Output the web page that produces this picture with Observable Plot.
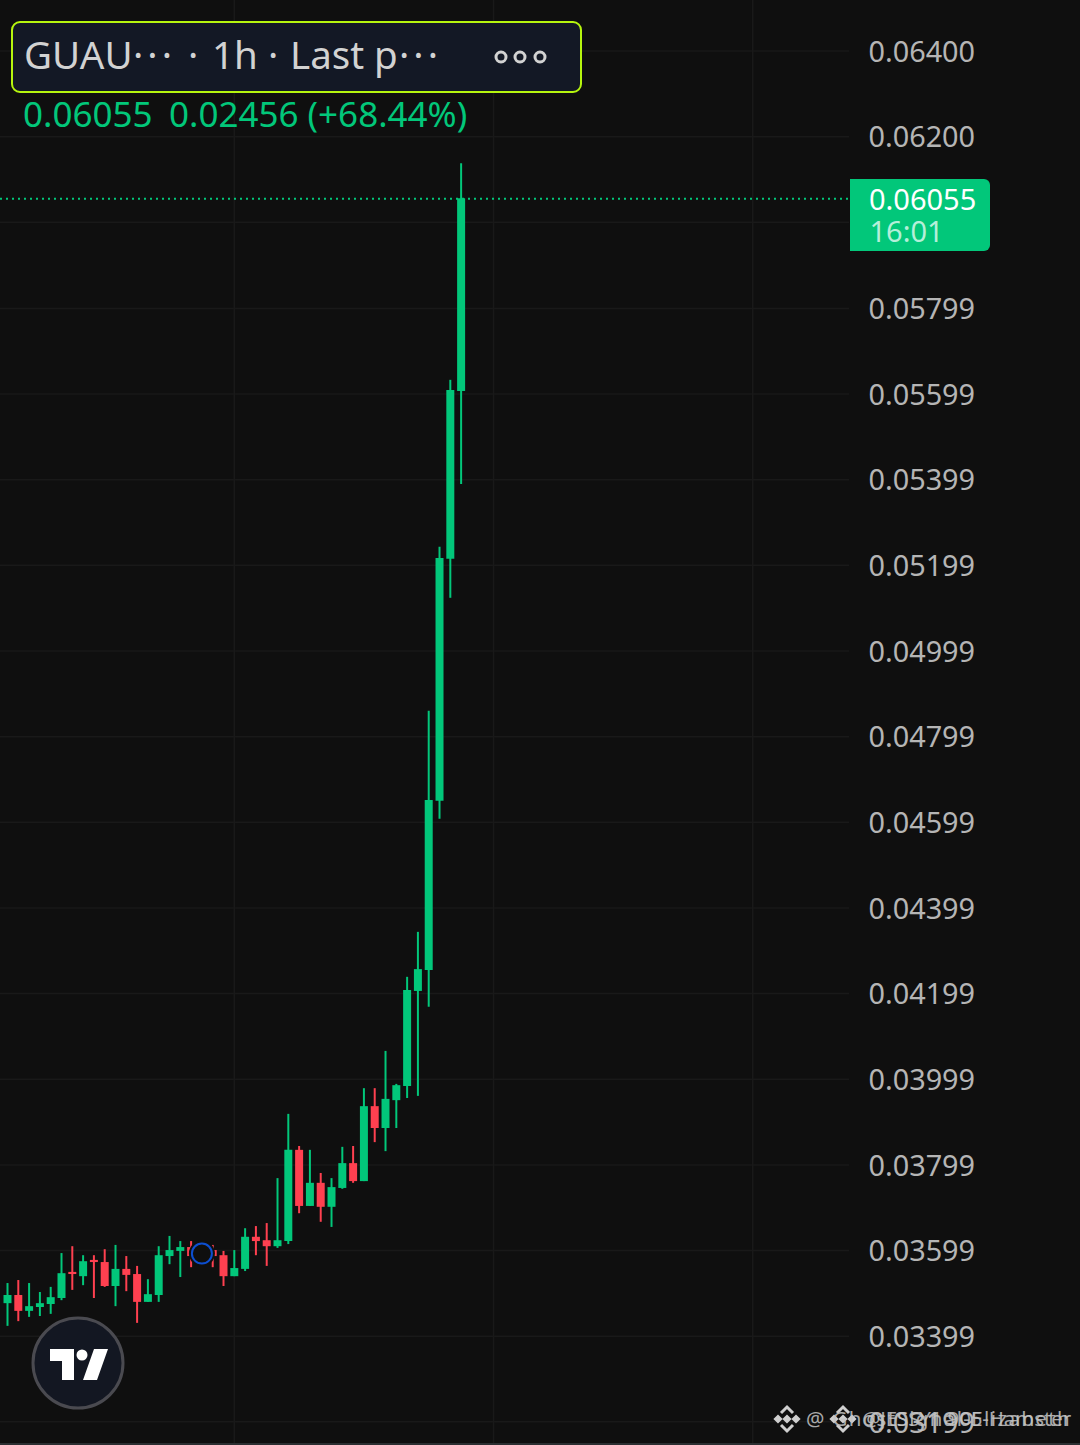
<!DOCTYPE html>
<html>
<head>
<meta charset="utf-8">
<script src="https://cdn.jsdelivr.net/npm/d3@7"></script>
<script src="https://cdn.jsdelivr.net/npm/@observablehq/plot@0.6"></script>
<style>
html,body{margin:0;padding:0;background:#0f0f0f;width:1080px;height:1445px;overflow:hidden}
#wrap{position:relative;width:1080px;height:1445px;font-family:"Noto Sans",sans-serif;overflow:hidden}
#wrap svg{display:block}
.abs{position:absolute;white-space:pre;line-height:1}
#header{position:absolute;left:11px;top:21px;width:567px;height:68px;background:#131825;border:2px solid #b6f50e;border-radius:9px}
#bottom{position:absolute;left:0;right:0;bottom:0;height:2px;background:#2b2e31}
#tag{position:absolute;left:850px;width:140px;height:72px;background:#02c77a;border-radius:0 6px 6px 0}
.wm{position:absolute;color:#c4c4c4;font-size:20.5px;line-height:1;white-space:pre;opacity:.85}
</style>
</head>
<body>
<div id="wrap"></div>
<script>
const index = d3.range(43);
const opens  = [.03475,.03494,.03457,.03466,.03473,.03487,.03548,.03538,.03576,.03571,.03515,.03555,.03543,.03478,.03494,.03585,.03597,.03606,.03592,.03599,.03587,.03538,.03555,.03630,.03622,.03608,.03620,.03833,.03702,.03756,.03700,.03744,.03802,.03760,.03935,.03884,.03949,.03982,.04204,.04253,.04648,.05213,.05605];
const closes = [.03494,.03457,.03468,.03475,.03489,.03545,.03543,.03573,.03571,.03515,.03555,.03541,.03478,.03496,.03587,.03599,.03606,.03585,.03599,.03585,.03538,.03557,.03630,.03620,.03608,.03622,.03833,.03702,.03756,.03700,.03746,.03802,.03760,.03935,.03884,.03952,.03984,.04206,.04255,.04650,.05215,.05607,.06055];
const highs  = [.03522,.03529,.03522,.03501,.03513,.03592,.03608,.03587,.03587,.03601,.03611,.03585,.03562,.03531,.03608,.03632,.03620,.03620,.03611,.03611,.03597,.03599,.03650,.03655,.03662,.03767,.03917,.03842,.03833,.03779,.03767,.03840,.03842,.03977,.03977,.04064,.03987,.04237,.04342,.04858,.05241,.05631,.06137];
const lows   = [.03422,.03433,.03443,.03445,.03450,.03482,.03506,.03517,.03487,.03513,.03468,.03503,.03429,.03478,.03478,.03566,.03536,.03559,.03562,.03559,.03515,.03538,.03550,.03587,.03562,.03604,.03613,.03685,.03702,.03665,.03653,.03742,.03756,.03760,.03851,.03830,.03884,.03954,.03959,.04167,.04606,.05122,.05388];
const yTicks = [.064,.062,.06,.05799,.05599,.05399,.05199,.04999,.04799,.04599,.04399,.04199,.03999,.03799,.03599,.03399,.03199];
const xGrid = [21,45,69];
const lastPrice = 0.06055;
const marker = [{i:18, price:.03592}];

const GREEN="#02c77a", RED="#ff4050", GRID="#191919", BG="#0f0f0f";
const candles = index.map(i=>({i,open:opens[i],close:closes[i],high:highs[i],low:lows[i]}));
const col = d => d.close>=d.open?GREEN:RED;

const plot = Plot.plot({
  width:1080, height:1445,
  marginTop:0, marginBottom:0, marginLeft:0, marginRight:231,
  style:{background:"transparent",fontFamily:"Noto Sans"},
  x:{domain:[-0.648,77.96],axis:null},
  y:{domain:[0.031438,0.065179],range:[1445,0],axis:null},
  marks:[
    Plot.ruleY(yTicks,{stroke:GRID,strokeWidth:1.5}),
    Plot.ruleX(xGrid,{stroke:GRID,strokeWidth:1.5}),
    Plot.ruleY([lastPrice],{stroke:GREEN,strokeWidth:2,strokeDasharray:"2 4"}),
    Plot.ruleX(candles,{x:"i",y1:"low",y2:"high",stroke:col,strokeWidth:2}),
    Plot.ruleX(candles,{x:"i",y1:"open",y2:"close",stroke:col,strokeWidth:8}),
    Plot.dot(marker,{x:"i",y:"price",r:13,fill:BG}),
    Plot.dot(marker,{x:"i",y:"price",r:10,fill:BG,stroke:"#0d4fd1",strokeWidth:2}),
    Plot.axisY(yTicks,{anchor:"right",tickSize:0,tickPadding:19,fontSize:28.8,fill:"#b5b5b5",tickFormat:d3.format(".5f"),dy:1.5,label:null})
  ]
});
const wrap = document.getElementById("wrap");
wrap.appendChild(plot);

function add(html){const t=document.createElement("template");t.innerHTML=html.trim();const e=t.content.firstChild;wrap.appendChild(e);return e;}
function txt(s,x,y,size,color,extra=""){return add(`<div class="abs" style="left:${x}px;top:${y}px;font-size:${size}px;color:${color};${extra}">${s}</div>`);}

// legend header
add(`<div id="header"></div>`);
const H="#d2d2d2";
txt("GUAU",24,35,38.5,H);
txt("···",133,35,38.5,H,"letter-spacing:4px");
txt("·",188,35,38.5,H);
txt("1h",212,35,38.5,H);
txt("·",268,35,38.5,H);
txt("Last p",290,35,38.5,H);
txt("···",399,35,38.5,H,"letter-spacing:4px");
add(`<svg class="abs" style="left:490px;top:45px" width="62" height="24" fill="none" stroke="${H}" stroke-width="3"><circle cx="11" cy="12" r="5"/><circle cx="30" cy="12" r="5"/><circle cx="50" cy="12" r="5"/></svg>`);
txt("0.06055",23,96,35,GREEN);
txt("0.02456 (+68.44%)",169,96,35,GREEN);

// last price tag, positioned by the y scale
const ly = plot.scale("y").apply(lastPrice);
add(`<div id="tag" style="top:${ly-19.5}px"></div>`);
txt(d3.format(".5f")(lastPrice),869,ly-14,29,"#ffffff");
txt("16:01",869.5,ly+18,29,"#b4efd9");

// TradingView badge
add(`<svg class="abs" style="left:30px;top:1315px" width="96" height="96"><circle cx="48" cy="48" r="45" fill="#131722" stroke="#4a4a50" stroke-width="3"/><path d="M20 34H44V65H32V46H20Z M64 34H78L67 65H53Z" fill="#fff"/><circle cx="52" cy="40" r="5.5" fill="#fff"/></svg>`);

// watermarks
const icon=x=>add(`<svg class="abs" style="left:${x-15}px;top:1404px" width="30" height="30" fill="none" stroke="#cfcfcf" stroke-width="3"><g transform="translate(15,15)"><path d="M-6 -6L0 -12L6 -6M-6 6L0 12L6 6"/><path d="M-2.5 0L0 -2.5L2.5 0L0 2.5Z M-11.5 0L-9 -2.5L-6.5 0L-9 2.5Z M6.5 0L9 -2.5L11.5 0L9 2.5Z" fill="#cfcfcf"/></g></svg>`);
icon(787); icon(843);
function wm(s,x,end){const e=add(`<div class="wm" style="left:${x}px;top:1408px">${s}</div>`);const w=e.getBoundingClientRect().width;e.style.letterSpacing=((end-x-w)/s.length)+"px";}
wm("@ GhostSignal-Elizabeth",806,1071);
wm("@JESSY1 905-Hamster",862,1071);
add(`<div id="bottom"></div>`);
</script>
</body>
</html>
